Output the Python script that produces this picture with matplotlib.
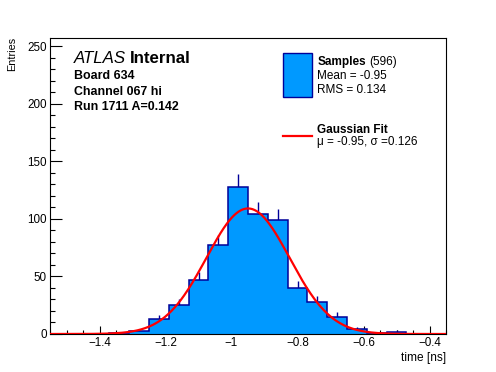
import numpy as np
import matplotlib
matplotlib.use("Agg")
import matplotlib.pyplot as plt
from matplotlib.patches import Rectangle
from matplotlib.lines import Line2D
from matplotlib.ticker import MultipleLocator

plt.rcParams['font.family'] = ['Liberation Sans', 'DejaVu Sans']

# ---- data ----
bin_edges = [-1.55, -1.49, -1.43, -1.37, -1.31, -1.25, -1.19, -1.13, -1.07, -1.01,
             -0.95, -0.89, -0.83, -0.77, -0.71, -0.65, -0.59, -0.53, -0.47, -0.41, -0.35]
counts = [0, 0, 0, 1, 3, 13, 25, 47, 77, 128,
          104, 99, 40, 28, 15, 4, 1, 2, 0, 0]
fit_amp = 109.0
fit_mu = -0.95
fit_sigma = 0.126
xticks = [-1.4, -1.2, -1.0, -0.8, -0.6, -0.4]
xtick_labels = ['\u22121.4', '\u22121.2', '\u22121', '\u22120.8', '\u22120.6', '\u22120.4']
yticks = [0, 50, 100, 150, 200, 250]
ytick_labels = ['0', '50', '100', '150', '200', '250']
header_lines = ['Board 634', 'Channel 067 hi', 'Run 1711 A=0.142']

W, H = 496, 372
fig = plt.figure(figsize=(W / 100, H / 100), dpi=100)
ax = fig.add_axes([50 / W, 1 - 334 / H, (446 - 50) / W, (334 - 38) / H])

def fx(px):
    return px / W

def fy(py):
    return 1 - py / H

edges = np.array(bin_edges)
cnt = np.array(counts, dtype=float)
centers = 0.5 * (edges[:-1] + edges[1:])
fill_c = '#0099FF'
line_c = '#000099'

mask = cnt > 0
ax.errorbar(centers[mask], cnt[mask], yerr=np.sqrt(cnt[mask]), fmt='none',
            ecolor=line_c, elinewidth=1.0, capsize=0, zorder=1)
ax.stairs(cnt, edges, fill=True, facecolor=fill_c, edgecolor='none', zorder=2)
ax.stairs(cnt, edges, fill=False, color=line_c, linewidth=1.1, zorder=3)

xf = np.linspace(edges[0], edges[-1], 500)
yf = fit_amp * np.exp(-0.5 * ((xf - fit_mu) / fit_sigma) ** 2)
ax.plot(xf, yf, color='#FF0000', linewidth=1.6, zorder=4, clip_on=True)

ax.set_xlim(edges[0], edges[-1])
ax.set_ylim(0, 257)
ax.set_xticks(xticks)
ax.set_xticklabels(xtick_labels)
ax.set_yticks(yticks)
ax.set_yticklabels(ytick_labels)
ax.xaxis.set_minor_locator(MultipleLocator(0.05))
ax.yaxis.set_minor_locator(MultipleLocator(10))
ax.tick_params(axis='both', which='both', direction='in', top=False, right=False,
               labelsize=8.4, width=0.8)
ax.tick_params(axis='x', which='major', length=6, pad=2)
ax.tick_params(axis='x', which='minor', length=3)
ax.tick_params(axis='y', which='major', length=8.6, pad=2.5)
ax.tick_params(axis='y', which='minor', length=3.6)
for s in ax.spines.values():
    s.set_linewidth(0.8)

fig.text(fx(446), fy(361), 'time [ns]', ha='right', va='baseline', fontsize=8.6)
fig.text(fx(15), fy(37), 'Entries', ha='right', va='baseline', rotation=90,
         fontsize=7.8, rotation_mode='anchor')

fig.canvas.draw()
r = fig.canvas.get_renderer()

# ATLAS label
t1 = fig.text(fx(74), fy(63.3), 'ATLAS', style='italic', fontsize=12.2, va='baseline')
bb = t1.get_window_extent(r)
fig.text(fx(bb.x1 + 4), fy(63.3), 'Internal', weight='bold', fontsize=12.2, va='baseline')
for i, line in enumerate(header_lines):
    fig.text(fx(74), fy(79.3 + i * 15.4), line, weight='bold', fontsize=8.9, va='baseline')

# legend
fig.add_artist(Rectangle((fx(283.3), fy(96.7)), fx(311.7) - fx(283.3), fy(53.3) - fy(96.7),
                         transform=fig.transFigure, facecolor=fill_c, edgecolor=line_c,
                         linewidth=1.0))
t2 = fig.text(fx(317.3), fy(65), 'Samples', weight='bold', fontsize=8.5, va='baseline')
bb = t2.get_window_extent(r)
fig.text(fx(bb.x1 + 3), fy(65), '(596)', fontsize=8.5, va='baseline')
fig.text(fx(317.3), fy(79.3), 'Mean = -0.95', fontsize=8.5, va='baseline')
fig.text(fx(317.3), fy(93.3), 'RMS = 0.134', fontsize=8.5, va='baseline')
fig.add_artist(Line2D([fx(283), fx(312)], [fy(136), fy(136)], transform=fig.transFigure,
                      color='#FF0000', linewidth=1.6))
fig.text(fx(317.3), fy(132.7), 'Gaussian Fit', weight='bold', fontsize=8.5, va='baseline')
fig.text(fx(317.3), fy(145.5), '\u03bc = -0.95, \u03c3 =0.126', fontsize=8.5, va='baseline')

fig.savefig('out.png', dpi=100)
